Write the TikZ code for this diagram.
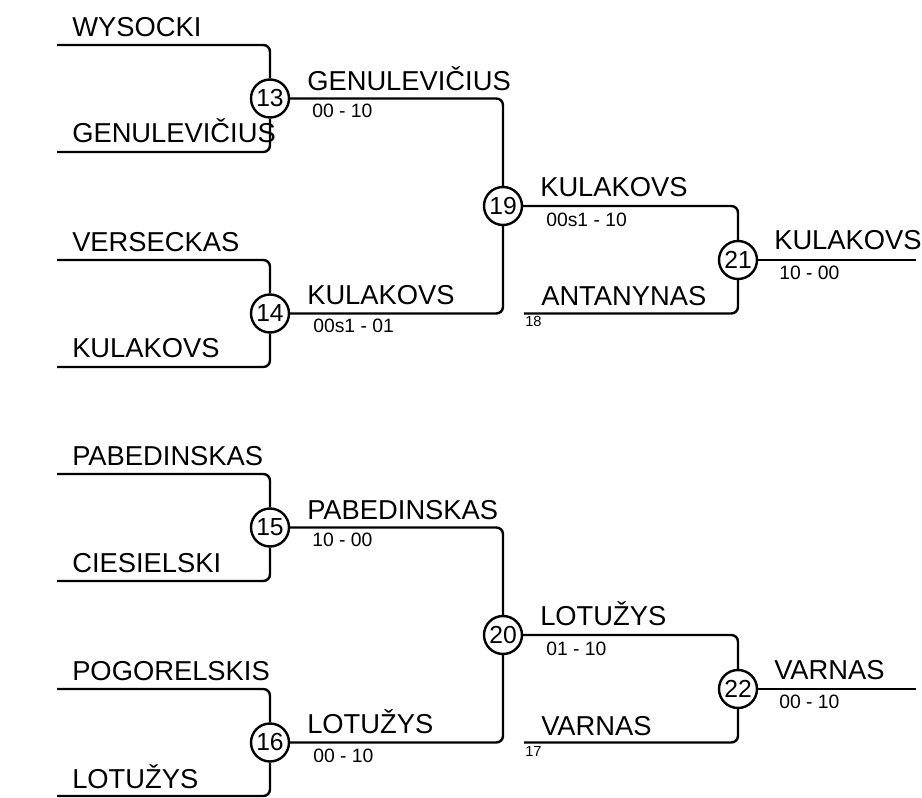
\documentclass[tikz,border=0pt]{standalone}
\usepackage{fontspec}
\setmainfont{Liberation Sans}
\tikzstyle{line} = [draw, line width=1.8pt, rounded corners=5pt]
\tikzstyle{match} = [draw, circle, line width=1.8pt, fill=white, minimum size=28.5pt, inner sep=0pt, font=\fontsize{18.5}{18.5}\selectfont]
\tikzstyle{player} = [anchor=base west, inner sep=0pt, font=\fontsize{20.5}{20.5}\selectfont]
\tikzstyle{score} = [anchor=base west, inner sep=0pt, font=\fontsize{14.5}{14.5}\selectfont]
\tikzstyle{seed} = [anchor=base west, inner sep=0pt, font=\fontsize{11}{11}\selectfont]
\begin{document}
\begin{tikzpicture}[x=0.75pt, y=-0.75pt]
        \useasboundingbox (0,0) rectangle (922,798);

        \node[match] (kova13) at (270,98.5) {13};
        \node[match] (kova14) at (270,313.5) {14};
        \node[match] (kova19) at (503,206) {19};
        \node[match] (kova21) at (738,260) {21};
        \node[match] (kova15) at (270,527.5) {15};
        \node[match] (kova16) at (270,742.5) {16};
        \node[match] (kova20) at (503,635) {20};
        \node[match] (kova22) at (738,689) {22};

        \coordinate (start1) at (57,45);
        \coordinate (start2) at (57,152);
        \coordinate (start3) at (57,260);
        \coordinate (start4) at (57,367);
        \coordinate (start5) at (57,474);
        \coordinate (start6) at (57,581);
        \coordinate (start7) at (57,689);
        \coordinate (start8) at (57,796);
        \coordinate (start18) at (524,313.5);
        \coordinate (start17) at (524,742.5);
        \coordinate (galas21) at (916,260);
        \coordinate (galas22) at (916,689);

        \draw[line] (start1) -| (kova13);
        \draw[line] (start2) -| (kova13);
        \draw[line] (start3) -| (kova14);
        \draw[line] (start4) -| (kova14);
        \draw[line] (kova13) -| (kova19);
        \draw[line] (kova14) -| (kova19);
        \draw[line] (kova19) -| (kova21);
        \draw[line] (start18) -| (kova21);
        \draw[line] (kova21) -- (galas21);

        \draw[line] (start5) -| (kova15);
        \draw[line] (start6) -| (kova15);
        \draw[line] (start7) -| (kova16);
        \draw[line] (start8) -| (kova16);
        \draw[line] (kova15) -| (kova20);
        \draw[line] (kova16) -| (kova20);
        \draw[line] (kova20) -| (kova22);
        \draw[line] (start17) -| (kova22);
        \draw[line] (kova22) -- (galas22);

        \node[player] (zaid1) at (72,37) {WYSOCKI};
        \node[player] (zaid2) at (72,143) {GENULEVIČIUS};
        \node[player] (zaid3) at (72,252) {VERSECKAS};
        \node[player] (zaid4) at (72,358) {KULAKOVS};
        \node[player] (laim13) at (307,91) {GENULEVIČIUS};
        \node[score] (rez13) at (312,118) {00 - 10};
        \node[player] (laim14) at (307,305) {KULAKOVS};
        \node[score] (rez14) at (313,333) {00s1 - 01};
        \node[player] (laim19) at (540,197) {KULAKOVS};
        \node[score] (rez19) at (546,227) {00s1 - 10};
        \node[player] (zaid18) at (541,306) {ANTANYNAS};
        \node[seed] (nr18) at (525,327) {18};
        \node[player] (laim21) at (774,250) {KULAKOVS};
        \node[score] (rez21) at (779,280) {10 - 00};

        \node[player] (zaid5) at (72,466) {PABEDINSKAS};
        \node[player] (zaid6) at (72,573) {CIESIELSKI};
        \node[player] (zaid7) at (72,681) {POGORELSKIS};
        \node[player] (zaid8) at (72,788) {LOTUŽYS};
        \node[player] (laim15) at (307,520) {PABEDINSKAS};
        \node[score] (rez15) at (312,547) {10 - 00};
        \node[player] (laim16) at (307,734) {LOTUŽYS};
        \node[score] (rez16) at (313,762) {00 - 10};
        \node[player] (laim20) at (540,626) {LOTUŽYS};
        \node[score] (rez20) at (546,656) {01 - 10};
        \node[player] (zaid17) at (541,735) {VARNAS};
        \node[seed] (nr17) at (525,756) {17};
        \node[player] (laim22) at (774,679) {VARNAS};
        \node[score] (rez22) at (779,709) {00 - 10};
    \end{tikzpicture}
\end{document}
